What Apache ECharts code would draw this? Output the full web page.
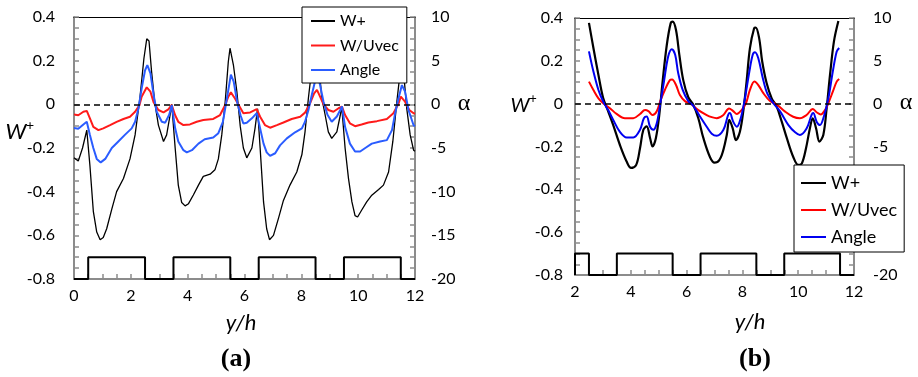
<!DOCTYPE html>
<html>
<head>
<meta charset="utf-8">
<script src="https://cdn.jsdelivr.net/npm/echarts@6/dist/echarts.min.js"></script>
<style>
  html, body { margin: 0; padding: 0; background: #fff; }
  #chart { width: 918px; height: 377px; }
</style>
</head>
<body>
<div id="chart"></div>
<script>
// ---- Panel (a): y/h from 0 to 12 ----
const wPlusA = [[0,-0.245],[0.15,-0.26],[0.3,-0.2],[0.45,-0.118],[0.56,-0.28],[0.68,-0.49],[0.8,-0.585],[0.92,-0.62],[1.03,-0.61],[1.15,-0.57],[1.33,-0.48],[1.5,-0.4],[1.74,-0.34],[1.97,-0.25],[2.15,-0.14],[2.32,0.03],[2.46,0.21],[2.56,0.3],[2.64,0.29],[2.73,0.15],[2.84,0.01],[2.97,-0.095],[3.15,-0.17],[3.26,-0.14],[3.38,-0.05],[3.44,0],[3.56,-0.2],[3.67,-0.37],[3.79,-0.45],[3.91,-0.465],[4.03,-0.455],[4.2,-0.415],[4.38,-0.37],[4.55,-0.33],[4.79,-0.32],[4.96,-0.3],[5.08,-0.25],[5.2,-0.14],[5.32,0.01],[5.43,0.195],[5.49,0.257],[5.61,0.18],[5.73,0.06],[5.85,-0.1],[5.96,-0.2],[6.08,-0.245],[6.26,-0.2],[6.37,-0.11],[6.46,-0.02],[6.55,-0.2],[6.67,-0.447],[6.78,-0.57],[6.88,-0.62],[7.02,-0.6],[7.2,-0.52],[7.37,-0.44],[7.6,-0.37],[7.84,-0.31],[8.02,-0.23],[8.13,-0.126],[8.25,0.03],[8.4,0.2],[8.5,0.28],[8.6,0.2],[8.72,0.03],[8.84,-0.05],[8.95,-0.126],[9.07,-0.156],[9.25,-0.126],[9.37,-0.05],[9.42,-0.01],[9.54,-0.2],[9.66,-0.34],[9.78,-0.447],[9.89,-0.51],[9.98,-0.516],[10.12,-0.485],[10.3,-0.447],[10.48,-0.416],[10.72,-0.39],[10.89,-0.37],[11.07,-0.31],[11.22,-0.17],[11.36,0.01],[11.48,0.15],[11.55,0.2],[11.63,0.1],[11.71,-0.02],[11.83,-0.14],[11.95,-0.21],[12,-0.215]];
const wUvecA = [[0,-0.046],[0.15,-0.05],[0.33,-0.034],[0.45,-0.03],[0.56,-0.064],[0.68,-0.103],[0.86,-0.118],[1.03,-0.11],[1.27,-0.095],[1.5,-0.08],[1.74,-0.067],[1.97,-0.057],[2.15,-0.034],[2.3,-0.005],[2.38,0.035],[2.56,0.078],[2.69,0.058],[2.8,0.01],[2.97,-0.026],[3.15,-0.037],[3.32,-0.023],[3.44,-0.003],[3.56,-0.05],[3.67,-0.08],[3.85,-0.095],[4.08,-0.092],[4.32,-0.08],[4.55,-0.072],[4.9,-0.067],[5.14,-0.049],[5.32,-0.003],[5.43,0.035],[5.52,0.055],[5.66,0.028],[5.78,0],[5.96,-0.041],[6.02,-0.045],[6.2,-0.037],[6.43,-0.022],[6.55,-0.057],[6.72,-0.095],[6.9,-0.107],[7.14,-0.095],[7.37,-0.083],[7.66,-0.067],[7.96,-0.057],[8.13,-0.038],[8.31,0.005],[8.45,0.05],[8.55,0.066],[8.66,0.035],[8.78,0],[8.95,-0.026],[9.13,-0.034],[9.31,-0.018],[9.43,-0.01],[9.54,-0.049],[9.71,-0.087],[9.89,-0.1],[10.12,-0.092],[10.36,-0.083],[10.66,-0.077],[11.01,-0.067],[11.24,-0.041],[11.41,0],[11.5,0.035],[11.65,0.012],[11.8,-0.026],[11.95,-0.041],[12,-0.043]];
// flow angle alpha in degrees (right axis)
const angleA = [[0,-2.7],[0.15,-2.8],[0.33,-2.3],[0.45,-2.0],[0.56,-3.5],[0.68,-5.0],[0.8,-6.25],[0.94,-6.65],[1.1,-6.25],[1.33,-5.0],[1.56,-4.25],[1.79,-3.5],[2.03,-2.75],[2.15,-2.0],[2.27,-0.45],[2.38,1.8],[2.5,3.9],[2.58,4.5],[2.69,3.55],[2.8,1.1],[2.91,-0.85],[3.09,-2.0],[3.21,-2.1],[3.35,-1.2],[3.44,-0.1],[3.56,-2.75],[3.67,-4.25],[3.85,-5.25],[3.97,-5.5],[4.15,-5.25],[4.38,-4.5],[4.6,-4.0],[4.9,-3.8],[5.08,-3.3],[5.24,-2.0],[5.35,0.1],[5.47,2.4],[5.52,3.4],[5.62,2.6],[5.74,0.3],[5.86,-1.25],[5.96,-2.2],[6.08,-2.1],[6.26,-1.6],[6.43,-1.0],[6.55,-2.75],[6.67,-4.5],[6.78,-5.5],[6.9,-5.9],[7.08,-5.6],[7.25,-4.7],[7.49,-3.9],[7.78,-3.2],[8.02,-2.75],[8.13,-2.0],[8.25,-0.65],[8.37,1.1],[8.49,2.75],[8.56,3.5],[8.66,2.2],[8.78,0.3],[8.92,-1.2],[9.07,-2.0],[9.25,-1.4],[9.37,-0.65],[9.43,-0.25],[9.54,-2.6],[9.71,-4.5],[9.89,-5.4],[10.07,-5.4],[10.25,-5.0],[10.48,-4.5],[10.77,-4.25],[11.01,-4.1],[11.19,-2.95],[11.29,-1.2],[11.42,0.7],[11.54,2.2],[11.65,1.45],[11.77,-0.65],[11.95,-2.4],[12,-2.5]];
const ridgeStartA = [0.5, 3.5, 6.5, 9.5];
const ridgeEndA = [2.5, 5.5, 8.5, 11.5];

// ---- Panel (b): y/h from 2 to 12 ----
const wPlusB = [[2.5,0.377],[2.66,0.26],[2.84,0.134],[3.01,0.026],[3.19,-0.036],[3.37,-0.1],[3.61,-0.193],[3.85,-0.27],[4.01,-0.3],[4.19,-0.287],[4.33,-0.208],[4.45,-0.122],[4.57,-0.106],[4.69,-0.16],[4.78,-0.2],[4.9,-0.16],[5.02,-0.053],[5.14,0.103],[5.29,0.274],[5.43,0.376],[5.5,0.383],[5.62,0.344],[5.74,0.228],[5.88,0.11],[6.06,0.03],[6.24,-0.005],[6.42,-0.068],[6.6,-0.16],[6.84,-0.25],[7.0,-0.275],[7.08,-0.274],[7.26,-0.24],[7.44,-0.146],[7.53,-0.076],[7.65,-0.114],[7.77,-0.17],[7.91,-0.131],[8.03,-0.037],[8.15,0.103],[8.27,0.259],[8.42,0.352],[8.48,0.355],[8.6,0.306],[8.71,0.197],[8.87,0.095],[9.05,0.025],[9.23,-0.014],[9.41,-0.084],[9.59,-0.16],[9.82,-0.248],[10.0,-0.286],[10.13,-0.279],[10.28,-0.208],[10.42,-0.115],[10.52,-0.068],[10.64,-0.115],[10.76,-0.177],[10.9,-0.146],[11.02,-0.021],[11.14,0.134],[11.28,0.29],[11.44,0.386]];
const wUvecB = [[2.5,0.103],[2.66,0.064],[2.84,0.025],[3.01,0.002],[3.25,-0.021],[3.49,-0.048],[3.79,-0.068],[4.09,-0.068],[4.33,-0.048],[4.51,-0.03],[4.63,-0.035],[4.78,-0.053],[4.93,-0.035],[5.07,0.017],[5.22,0.064],[5.4,0.11],[5.48,0.113],[5.62,0.087],[5.76,0.04],[5.94,0.012],[6.18,-0.004],[6.42,-0.03],[6.72,-0.053],[6.9,-0.063],[7.08,-0.068],[7.32,-0.053],[7.52,-0.022],[7.67,-0.035],[7.8,-0.048],[7.97,-0.03],[8.13,0.002],[8.27,0.064],[8.43,0.103],[8.57,0.087],[8.75,0.049],[8.99,0.012],[9.23,-0.004],[9.53,-0.037],[9.82,-0.061],[10.06,-0.068],[10.3,-0.053],[10.52,-0.025],[10.66,-0.04],[10.81,-0.05],[10.96,-0.03],[11.08,0.002],[11.24,0.056],[11.38,0.103],[11.47,0.115]];
const angleB = [[2.5,6.1],[2.66,3.75],[2.84,1.6],[3.01,0.25],[3.19,-0.75],[3.37,-1.9],[3.61,-3.3],[3.85,-3.95],[4.09,-3.95],[4.33,-3.05],[4.47,-1.7],[4.57,-1.5],[4.69,-2.7],[4.81,-3.05],[4.93,-2.3],[5.05,-0.15],[5.19,2.6],[5.34,5.5],[5.47,6.35],[5.59,5.7],[5.7,3.55],[5.86,1.6],[6.06,0.3],[6.24,-0.25],[6.48,-1.5],[6.72,-2.7],[6.9,-3.5],[7.08,-3.75],[7.32,-3.05],[7.49,-1.3],[7.55,-1.1],[7.67,-2.1],[7.8,-2.7],[7.94,-1.7],[8.09,0.6],[8.25,3.75],[8.37,5.7],[8.45,6.0],[8.57,5.3],[8.73,3.0],[8.89,1.2],[9.11,0.05],[9.35,-0.9],[9.65,-2.5],[9.89,-3.35],[10.06,-3.65],[10.3,-2.9],[10.48,-1.3],[10.54,-1.1],[10.66,-2.1],[10.78,-2.5],[10.92,-1.5],[11.08,0.6],[11.24,3.75],[11.38,6.1],[11.47,6.5]];
const ridgeStartB = [2, 3.5, 6.5, 9.5];
const ridgeEndB = [2.5, 5.5, 8.5, 11.5];

// ---- Axis ranges and tick labels ----
const wTicks = [-0.8, -0.6, -0.4, -0.2, 0, 0.2, 0.4];
const alphaTicks = [-20, -15, -10, -5, 0, 5, 10];
const xTicksA = [0, 2, 4, 6, 8, 10, 12];
const xTicksB = [2, 4, 6, 8, 10, 12];
const ridgeBase = -0.8;   // wall profile drawn along the bottom
const ridgeTop = -0.7;
const seriesNames = ['W+', 'W/Uvec', 'Angle'];

// Build the square wall profile as a polyline
function ridgeLine(starts, ends, x0, x1) {
  const pts = [[x0, ridgeBase]];
  for (let i = 0; i < starts.length; i++) {
    pts.push([starts[i], ridgeBase], [starts[i], ridgeTop], [ends[i], ridgeTop], [ends[i], ridgeBase]);
  }
  pts.push([x1, ridgeBase]);
  return pts;
}

const GREY = '#8c8c8c';
const FONT = 'Lato';

function xAxisBottom(gridIndex, ticks) {
  return {
    type: 'value', gridIndex, position: 'bottom',
    min: ticks[0], max: ticks[ticks.length - 1], interval: 2,
    axisLine: { show: true, onZero: false, lineStyle: { color: GREY, width: 2 } },
    axisTick: { show: true, inside: true, length: 5, lineStyle: { color: GREY, width: 1.5 } },
    minorTick: { show: true, splitNumber: 4, length: 5, lineStyle: { color: GREY, width: 1.5 } },
    axisLabel: { color: '#000', fontFamily: FONT, fontSize: 16, margin: 9 },
    splitLine: { show: false }
  };
}
function xAxisTop(gridIndex, ticks) {
  return {
    type: 'value', gridIndex, position: 'top',
    min: ticks[0], max: ticks[ticks.length - 1],
    axisLine: { show: true, onZero: false, lineStyle: { color: '#000', width: 1.2 } },
    axisTick: { show: false }, axisLabel: { show: false }, splitLine: { show: false }
  };
}
function yAxisOf(gridIndex, ticks, position, margin) {
  return {
    type: 'value', gridIndex, position,
    min: ticks[0], max: ticks[ticks.length - 1], interval: ticks[1] - ticks[0],
    axisLine: { show: true, onZero: false, lineStyle: { color: GREY, width: 2 } },
    axisTick: { show: true, inside: true, length: 5, lineStyle: { color: GREY, width: 1.5 } },
    minorTick: { show: true, splitNumber: 4, length: 5, lineStyle: { color: GREY, width: 1.5 } },
    axisLabel: { color: '#000', fontFamily: FONT, fontSize: 16, margin,
                 formatter: v => String(Math.round(v * 100) / 100) },
    splitLine: { show: false }
  };
}

function lineSeries(name, data, xi, yi, color, width, smooth) {
  return {
    type: 'line', name, data, xAxisIndex: xi, yAxisIndex: yi,
    symbol: 'none', smooth: smooth, clip: true,
    lineStyle: { color, width }, itemStyle: { color },
    emphasis: { disabled: true }
  };
}
function zeroLine(xi, yi) {
  return {
    type: 'line', data: [], xAxisIndex: xi, yAxisIndex: yi, symbol: 'none',
    markLine: {
      silent: true, symbol: 'none', label: { show: false },
      lineStyle: { color: '#000', width: 1.5, type: [6, 4] },
      data: [{ yAxis: 0 }]
    }
  };
}
function ridgeSeries(starts, ends, x0, x1, xi, yi) {
  return {
    type: 'line', data: ridgeLine(starts, ends, x0, x1), xAxisIndex: xi, yAxisIndex: yi,
    symbol: 'none', clip: false, lineStyle: { color: '#000', width: 2 }, emphasis: { disabled: true }
  };
}

const BLUE_A = '#2a5cff', RED_A = '#ff1a1a';
const BLUE_B = '#0000f0', RED_B = '#ff0000';

const option = {
  animation: false,
  backgroundColor: '#fff',
  grid: [
    { left: 74, top: 17, width: 341, height: 262 },
    { left: 575, top: 18, width: 279, height: 257 }
  ],
  xAxis: [
    xAxisBottom(0, xTicksA), xAxisTop(0, xTicksA),
    xAxisBottom(1, xTicksB), xAxisTop(1, xTicksB)
  ],
  yAxis: [
    yAxisOf(0, wTicks, 'left', 19),
    yAxisOf(0, alphaTicks, 'right', 16),
    yAxisOf(1, wTicks, 'left', 12),
    yAxisOf(1, alphaTicks, 'right', 19)
  ],
  legend: [
    {
      orient: 'vertical', left: 302, top: 7,
      data: seriesNames,
      itemWidth: 24, itemHeight: 14, itemGap: 8.5,
      padding: [6, 8, 5, 8],
      itemStyle: { opacity: 0 },
      backgroundColor: '#fff', borderColor: '#000', borderWidth: 1, borderRadius: 0,
      textStyle: { fontFamily: FONT, fontSize: 16, color: '#000', lineHeight: 16 },
      selectedMode: false
    },
    {
      orient: 'vertical', left: 794, top: 165,
      data: [
        { name: 'W+', lineStyle: { color: '#000', width: 2 } },
        { name: 'W/Uvec', lineStyle: { color: RED_B, width: 2 } },
        { name: 'Angle', lineStyle: { color: BLUE_B, width: 2 } }
      ],
      itemWidth: 25, itemHeight: 14, itemGap: 9,
      padding: [9, 7, 6, 6],
      itemStyle: { opacity: 0 },
      backgroundColor: '#fff', borderColor: '#000', borderWidth: 1, borderRadius: 0,
      textStyle: { fontFamily: FONT, fontSize: 18, color: '#000', lineHeight: 18 },
      selectedMode: false
    }
  ],
  series: [
    zeroLine(0, 0),
    lineSeries('W+', wPlusA, 0, 0, '#000', 1.3, false),
    lineSeries('W/Uvec', wUvecA, 0, 0, RED_A, 2, false),
    lineSeries('Angle', angleA, 0, 1, BLUE_A, 2, false),
    ridgeSeries(ridgeStartA, ridgeEndA, xTicksA[0], xTicksA[xTicksA.length - 1], 0, 0),

    zeroLine(2, 2),
    lineSeries('W+', wPlusB, 2, 2, '#000', 2.2, 0.35),
    lineSeries('W/Uvec', wUvecB, 2, 2, RED_B, 2, 0.35),
    lineSeries('Angle', angleB, 2, 3, BLUE_B, 2, 0.35),
    ridgeSeries(ridgeStartB, ridgeEndB, xTicksB[0], xTicksB[xTicksB.length - 1], 2, 2)
  ],
  graphic: [
    // axis titles, panel (a)
    { type: 'text', x: 16, y: 132, style: { text: 'W', font: 'italic 22px Lato', fill: '#000', align: 'center', verticalAlign: 'middle' } },
    { type: 'text', x: 30, y: 125, style: { text: '+', font: '14px Lato', fill: '#000', align: 'center', verticalAlign: 'middle' } },
    { type: 'text', x: 464, y: 104, style: { text: 'α', font: '24px "Liberation Serif"', fill: '#000', align: 'center', verticalAlign: 'middle' } },
    { type: 'text', x: 241, y: 323, style: { text: 'y/h', font: 'italic 22px Lato', fill: '#000', align: 'center', verticalAlign: 'middle' } },
    { type: 'text', x: 236, y: 359, style: { text: '(a)', font: 'bold 26px "Liberation Serif"', fill: '#000', align: 'center', verticalAlign: 'middle' } },
    // axis titles, panel (b)
    { type: 'text', x: 520, y: 106, style: { text: 'W', font: 'italic 20px Lato', fill: '#000', align: 'center', verticalAlign: 'middle' } },
    { type: 'text', x: 533, y: 99, style: { text: '+', font: '13px Lato', fill: '#000', align: 'center', verticalAlign: 'middle' } },
    { type: 'text', x: 906, y: 103, style: { text: 'α', font: '24px "Liberation Serif"', fill: '#000', align: 'center', verticalAlign: 'middle' } },
    { type: 'text', x: 750, y: 322, style: { text: 'y/h', font: 'italic 22px Lato', fill: '#000', align: 'center', verticalAlign: 'middle' } },
    { type: 'text', x: 755, y: 359, style: { text: '(b)', font: 'bold 26px "Liberation Serif"', fill: '#000', align: 'center', verticalAlign: 'middle' } }
  ]
};

const chart = echarts.init(document.getElementById('chart'), null, { renderer: 'canvas' });
chart.setOption(option);
</script>
</body>
</html>
